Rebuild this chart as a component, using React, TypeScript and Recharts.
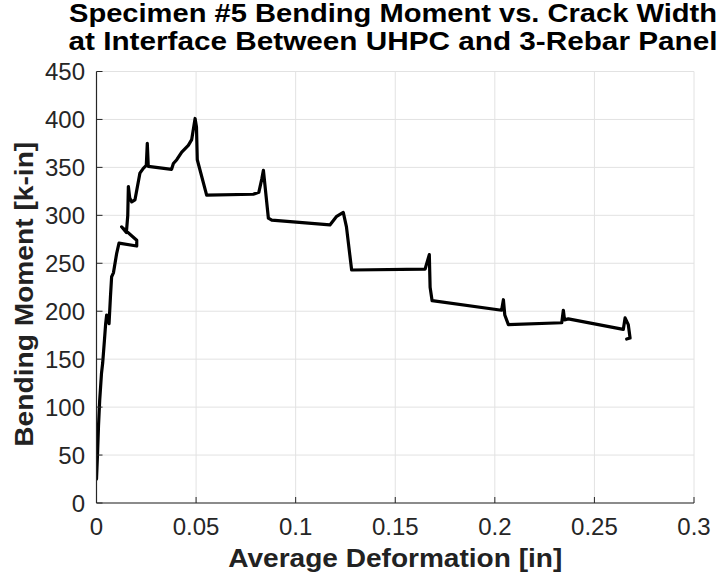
import React from 'react';
import { LineChart, Line, XAxis, YAxis, CartesianGrid } from 'recharts';

const deformation = [
  0.0, 0.0005, 0.001, 0.0016, 0.0025, 0.0031, 0.004, 0.0046, 0.0051, 0.0063,
  0.007, 0.0076, 0.0085, 0.0101, 0.0113, 0.0202, 0.0202, 0.0126, 0.015, 0.0157,
  0.016, 0.0167, 0.0177, 0.0193, 0.0218, 0.0235, 0.025, 0.0255, 0.026, 0.0377,
  0.0386, 0.0403, 0.0428, 0.0461, 0.0478, 0.0495, 0.0502, 0.0506, 0.0553, 0.0787,
  0.0815, 0.083, 0.0838, 0.0845, 0.0863, 0.088, 0.1172, 0.1206, 0.1239, 0.1255,
  0.1281, 0.165, 0.1671, 0.1675, 0.1685, 0.2034, 0.2043, 0.205, 0.2068, 0.2336,
  0.2344, 0.235, 0.2369, 0.2645, 0.2654, 0.267, 0.2679, 0.2662,
];

const moment = [
  25, 50, 80, 107, 135, 146, 170, 187, 196, 187,
  215, 236, 240, 260, 271, 268, 274, 288, 282, 300,
  330, 318, 314, 316, 344, 349, 352, 375, 351, 348,
  354, 358, 366, 373, 379, 401, 392, 358, 321, 322,
  324, 338, 347, 333, 297, 295, 290, 299, 303, 288,
  243, 244, 259, 225, 211, 201, 212, 196, 186, 188,
  201, 191, 192, 181, 193, 186, 172, 171,
];

const xTicks = [0, 0.05, 0.1, 0.15, 0.2, 0.25, 0.3];
const yTicks = [0, 50, 100, 150, 200, 250, 300, 350, 400, 450];

const titleLines = [
  'Specimen #5 Bending Moment vs. Crack Width',
  'at Interface Between UHPC and 3-Rebar Panel',
];
const xLabel = 'Average Deformation [in]';
const yLabel = 'Bending Moment [k-in]';

const data = deformation.map((x, i) => ({ x, m: moment[i] }));

const FONT = '"Liberation Sans", Arial, Helvetica, sans-serif';
const AXIS_COLOR = '#262626';
const tickStyle = { fontSize: 24, fill: '#262626', fontFamily: FONT };

const XLabelContent = (props: any) => {
  const vb = props.viewBox || {};
  const cx = (vb.x ?? 96.5) + (vb.width ?? 597.5) / 2;
  const y = (vb.y ?? 503) + 64;
  return (
    <text x={cx} y={y} textAnchor="middle" fontFamily={FONT} fontWeight="bold" fontSize={25}
      fill="#222" textLength={334} lengthAdjust="spacingAndGlyphs">{xLabel}</text>
  );
};

// Y-axis label plus the chart title (positioned from the plot area's top edge)
const YLabelContent = (props: any) => {
  const vb = props.viewBox || {};
  const top = vb.y ?? 71.5;
  const cy = top + (vb.height ?? 431.5) / 2 + 7;
  const x = 33;
  const tx = 393;
  return (
    <g>
      <text x={x} y={cy} transform={`rotate(-90 ${x} ${cy})`} textAnchor="middle" fontFamily={FONT}
        fontWeight="bold" fontSize={25} fill="#222" textLength={305} lengthAdjust="spacingAndGlyphs">{yLabel}</text>
      <text x={tx} y={top - 49.5} textAnchor="middle" fontFamily={FONT} fontWeight="bold" fontSize={25}
        fill="#000" textLength={648} lengthAdjust="spacingAndGlyphs">{titleLines[0]}</text>
      <text x={tx} y={top - 21.5} textAnchor="middle" fontFamily={FONT} fontWeight="bold" fontSize={25}
        fill="#000" textLength={649} lengthAdjust="spacingAndGlyphs">{titleLines[1]}</text>
    </g>
  );
};

const NoTick = () => <g />;

export default function App() {
  return (
    <div style={{ position: 'absolute', left: 0, top: 0, width: 720, height: 579, background: '#fff' }}>
      <LineChart width={720} height={579} data={data} margin={{ top: 71.5, right: 26, bottom: 0, left: 0 }}>
        <CartesianGrid stroke="#e2e2e2" strokeWidth={1} />
        <XAxis
          dataKey="x"
          type="number"
          domain={[0, 0.3]}
          ticks={xTicks}
          interval={0}
          height={76}
          allowDataOverflow
          axisLine={{ stroke: AXIS_COLOR, strokeWidth: 1.2 }}
          tickLine={{ stroke: AXIS_COLOR }}
          tickSize={-6}
          tickMargin={21}
          tick={tickStyle}
          label={{ content: XLabelContent }}
        />
        <XAxis
          xAxisId="top"
          orientation="top"
          type="number"
          domain={[0, 0.3]}
          ticks={xTicks}
          interval={0}
          height={0}
          allowDataOverflow
          axisLine={{ stroke: AXIS_COLOR, strokeWidth: 1.2 }}
          tickLine={{ stroke: AXIS_COLOR }}
          tickSize={-6}
          tick={NoTick}
        />
        <YAxis
          type="number"
          domain={[0, 450]}
          ticks={yTicks}
          interval={0}
          width={96.5}
          allowDataOverflow
          axisLine={{ stroke: AXIS_COLOR, strokeWidth: 1.2 }}
          tickLine={{ stroke: AXIS_COLOR }}
          tickSize={-6}
          tickMargin={17.5}
          tick={tickStyle}
          label={{ content: YLabelContent }}
        />
        <YAxis
          yAxisId="right"
          orientation="right"
          type="number"
          domain={[0, 450]}
          ticks={yTicks}
          interval={0}
          width={0}
          allowDataOverflow
          axisLine={{ stroke: AXIS_COLOR, strokeWidth: 1.2 }}
          tickLine={{ stroke: AXIS_COLOR }}
          tickSize={-6}
          tick={NoTick}
        />
        <Line
          type="linear"
          dataKey="m"
          stroke="#000"
          strokeWidth={3.2}
          strokeLinejoin="round"
          strokeLinecap="round"
          dot={false}
          activeDot={false}
          isAnimationActive={false}
        />
      </LineChart>
    </div>
  );
}
